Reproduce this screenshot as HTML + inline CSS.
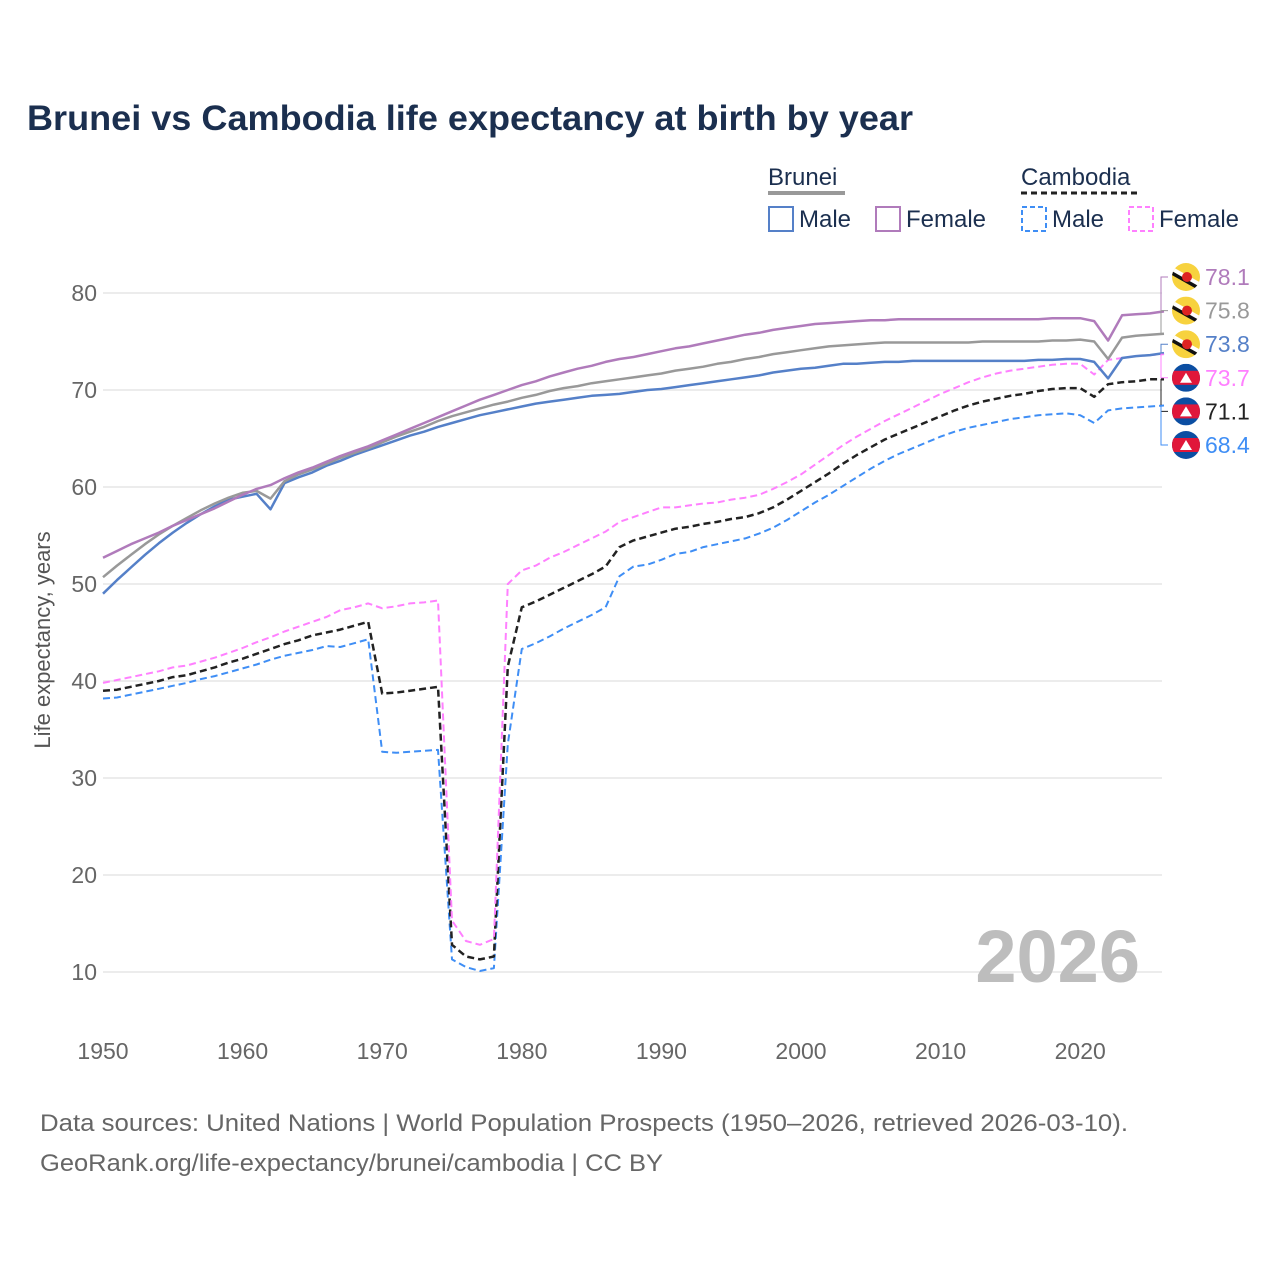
<!DOCTYPE html>
<html><head><meta charset="utf-8">
<style>
body{margin:0;background:#fff;font-family:"Liberation Sans",sans-serif;}
svg text{font-family:"Liberation Sans",sans-serif;}
</style></head>
<body>
<svg id="c" width="1280" height="1280" viewBox="0 0 1280 1280">
<rect width="1280" height="1280" fill="#fff"/>
<text x="27" y="130" font-size="35" font-weight="bold" fill="#1b2f4f" textLength="886" lengthAdjust="spacingAndGlyphs">Brunei vs Cambodia life expectancy at birth by year</text>
<g id="grid"></g>
<g id="yt"></g>
<g id="xt"></g>
<text transform="translate(50,640) rotate(-90)" text-anchor="middle" font-size="22" fill="#555">Life expectancy, years</text>
<text x="1140" y="982" text-anchor="end" font-size="74" font-weight="bold" fill="#bdbdbd">2026</text>
<g id="lines"></g>
<g id="labels"></g>
<g>
<text x="768" y="185" font-size="24" fill="#1b2f4f">Brunei</text>
<line x1="768" y1="193" x2="845" y2="193" stroke="#999" stroke-width="4"/>
<text x="1021" y="185" font-size="24" fill="#1b2f4f">Cambodia</text>
<line x1="1021" y1="193" x2="1137" y2="193" stroke="#222" stroke-width="3" stroke-dasharray="6,4"/>
<g><rect x="769" y="207" width="24" height="24" fill="none" stroke="#5580c8" stroke-width="2"/><text x="799" y="227" font-size="24" fill="#1b2f4f">Male</text></g>
<g><rect x="876" y="207" width="24" height="24" fill="none" stroke="#b07bbb" stroke-width="2"/><text x="906" y="227" font-size="24" fill="#1b2f4f">Female</text></g>
<g><rect x="1022" y="207" width="24" height="24" fill="none" stroke="#3f8ef5" stroke-width="2" stroke-dasharray="5,3"/><text x="1052" y="227" font-size="24" fill="#1b2f4f">Male</text></g>
<g><rect x="1129" y="207" width="24" height="24" fill="none" stroke="#ff80ff" stroke-width="2" stroke-dasharray="5,3"/><text x="1159" y="227" font-size="24" fill="#1b2f4f">Female</text></g>
</g>
<text x="40" y="1131" font-size="24" fill="#666" textLength="1088" lengthAdjust="spacingAndGlyphs">Data sources: United Nations | World Population Prospects (1950–2026, retrieved 2026-03-10).</text>
<text x="40" y="1171" font-size="24" fill="#666" textLength="623" lengthAdjust="spacingAndGlyphs">GeoRank.org/life-expectancy/brunei/cambodia | CC BY</text>
</svg>
<script>
const startYear = 1950;
const yTicks = [10,20,30,40,50,60,70,80];
const xTicks = [1950,1960,1970,1980,1990,2000,2010,2020];
const bruneiMale = [49.0,50.4,51.7,53.0,54.2,55.3,56.3,57.2,58.0,58.7,59.0,59.3,57.7,60.4,61.0,61.5,62.2,62.7,63.3,63.8,64.3,64.8,65.3,65.7,66.2,66.6,67.0,67.4,67.7,68.0,68.3,68.6,68.8,69.0,69.2,69.4,69.5,69.6,69.8,70.0,70.1,70.3,70.5,70.7,70.9,71.1,71.3,71.5,71.8,72.0,72.2,72.3,72.5,72.7,72.7,72.8,72.9,72.9,73.0,73.0,73.0,73.0,73.0,73.0,73.0,73.0,73.0,73.1,73.1,73.2,73.2,72.9,71.2,73.3,73.5,73.6,73.8];
const bruneiTotal = [50.7,51.9,53.0,54.1,55.1,56.0,56.8,57.6,58.3,58.9,59.4,59.6,58.8,60.6,61.3,61.8,62.4,63.0,63.5,64.0,64.6,65.2,65.7,66.2,66.8,67.3,67.7,68.1,68.5,68.8,69.2,69.5,69.9,70.2,70.4,70.7,70.9,71.1,71.3,71.5,71.7,72.0,72.2,72.4,72.7,72.9,73.2,73.4,73.7,73.9,74.1,74.3,74.5,74.6,74.7,74.8,74.9,74.9,74.9,74.9,74.9,74.9,74.9,75.0,75.0,75.0,75.0,75.0,75.1,75.1,75.2,75.0,73.2,75.4,75.6,75.7,75.8];
const bruneiFemale = [52.7,53.4,54.1,54.7,55.3,56.0,56.6,57.2,57.8,58.5,59.2,59.8,60.2,60.9,61.5,62.0,62.6,63.2,63.7,64.2,64.8,65.4,66.0,66.6,67.2,67.8,68.4,69.0,69.5,70.0,70.5,70.9,71.4,71.8,72.2,72.5,72.9,73.2,73.4,73.7,74.0,74.3,74.5,74.8,75.1,75.4,75.7,75.9,76.2,76.4,76.6,76.8,76.9,77.0,77.1,77.2,77.2,77.3,77.3,77.3,77.3,77.3,77.3,77.3,77.3,77.3,77.3,77.3,77.4,77.4,77.4,77.1,75.1,77.7,77.8,77.9,78.1];
const cambodiaTotal = [39.0,39.1,39.4,39.7,40.0,40.4,40.6,41.0,41.4,41.9,42.3,42.8,43.3,43.8,44.2,44.7,45.0,45.3,45.7,46.1,38.7,38.8,39.0,39.2,39.4,12.8,11.6,11.3,11.6,41.5,47.6,48.2,48.9,49.6,50.3,51.0,51.8,53.8,54.5,54.9,55.3,55.7,55.9,56.2,56.4,56.7,56.9,57.3,57.9,58.7,59.6,60.5,61.4,62.4,63.3,64.1,64.9,65.5,66.1,66.7,67.3,67.9,68.4,68.8,69.1,69.4,69.6,69.9,70.1,70.2,70.2,69.3,70.6,70.8,70.9,71.1,71.1];
const cambodiaMale = [38.2,38.3,38.6,38.9,39.2,39.5,39.8,40.2,40.5,40.9,41.3,41.7,42.2,42.6,42.9,43.2,43.6,43.5,43.9,44.3,32.7,32.6,32.7,32.8,32.9,11.3,10.5,10.1,10.4,33.5,43.3,43.9,44.6,45.4,46.1,46.8,47.6,50.8,51.8,52.0,52.5,53.1,53.3,53.8,54.1,54.4,54.7,55.2,55.8,56.6,57.5,58.4,59.2,60.1,61.0,61.9,62.7,63.4,64.0,64.6,65.2,65.7,66.1,66.4,66.7,67.0,67.2,67.4,67.5,67.6,67.4,66.6,67.9,68.1,68.2,68.3,68.4];
const cambodiaFemale = [39.8,40.1,40.4,40.7,41.0,41.4,41.6,42.0,42.4,42.9,43.4,44.0,44.5,45.1,45.6,46.1,46.6,47.3,47.6,48.0,47.5,47.7,48.0,48.1,48.3,15.3,13.2,12.8,13.4,50.0,51.4,51.9,52.7,53.3,54.0,54.7,55.4,56.4,56.9,57.4,57.9,57.9,58.1,58.3,58.4,58.7,58.9,59.2,59.8,60.5,61.3,62.3,63.3,64.3,65.2,66.0,66.8,67.5,68.2,68.9,69.6,70.2,70.8,71.3,71.7,72.0,72.2,72.4,72.6,72.7,72.7,71.6,73.1,73.3,73.5,73.6,73.7];

const NS='http://www.w3.org/2000/svg';
const X0=103, PX_PER_YEAR=13.96, Y80=293, PX_PER_UNIT=9.7, PL=103, PR=1162;
const xs = yr => X0 + (yr-1950)*PX_PER_YEAR;
const ys = v => Y80 + (80-v)*PX_PER_UNIT;
function mk(tag, parent){const e=document.createElementNS(NS,tag);parent.appendChild(e);return e;}
const grid=document.getElementById('grid'), yt=document.getElementById('yt'), xt=document.getElementById('xt');
yTicks.forEach(v=>{
  const l=mk('line',grid);
  
  
  l.setAttribute('x1',PL);l.setAttribute('x2',PR);l.setAttribute('y1',ys(v));l.setAttribute('y2',ys(v));
  l.setAttribute('stroke','#e6e6e6');l.setAttribute('stroke-width','1.5');
  const t=mk('text',yt);
  
  
  t.setAttribute('x',97);t.setAttribute('y',ys(v)+8);t.setAttribute('text-anchor','end');
  t.setAttribute('font-size','23');t.setAttribute('fill','#666');t.textContent=v;
});
xTicks.forEach(yr=>{
  const t=mk('text',xt);
  
  
  t.setAttribute('x',xs(yr));t.setAttribute('y',1059);t.setAttribute('text-anchor','middle');
  t.setAttribute('font-size','23');t.setAttribute('fill','#666');t.textContent=yr;
});
const series=[
 {name:'cambodia-male',d:cambodiaMale,c:'#3f8ef5',dash:'7,4',w:2},
 {name:'cambodia-total',d:cambodiaTotal,c:'#222',dash:'7,4',w:2.5},
 {name:'cambodia-female',d:cambodiaFemale,c:'#ff80ff',dash:'7,4',w:2},
 {name:'brunei-male',d:bruneiMale,c:'#5580c8',dash:null,w:2.5},
 {name:'brunei-total',d:bruneiTotal,c:'#999',dash:null,w:2.5},
 {name:'brunei-female',d:bruneiFemale,c:'#b07bbb',dash:null,w:2.5}
];
const lines=document.getElementById('lines');
series.forEach(s=>{
  const p=mk('polyline',lines);
  
  
  p.setAttribute('points',s.d.map((v,i)=>xs(startYear+i).toFixed(1)+','+ys(v).toFixed(1)).join(' '));
  p.setAttribute('fill','none');p.setAttribute('stroke',s.c);p.setAttribute('stroke-width',s.w);
  p.setAttribute('stroke-linejoin','round');
  if(s.dash)p.setAttribute('stroke-dasharray',s.dash);
});
const labels=document.getElementById('labels');
const endOrder=[
 {s:bruneiFemale,c:'#b07bbb',flag:'bn'},{s:bruneiTotal,c:'#999',flag:'bn'},{s:bruneiMale,c:'#5580c8',flag:'bn'},
 {s:cambodiaFemale,c:'#ff80ff',flag:'kh'},{s:cambodiaTotal,c:'#222',flag:'kh'},{s:cambodiaMale,c:'#3f8ef5',flag:'kh'}
];
const lastX=xs(startYear+bruneiMale.length-1);
endOrder.forEach((e,i)=>{
  const ly=277+i*33.6;
  const v=e.s[e.s.length-1];
  const conn=mk('polyline',labels);
  
  
  conn.setAttribute('points',`${lastX},${ys(v)} 1161,${ys(v)} 1161,${ly} 1168,${ly}`);
  conn.setAttribute('fill','none');conn.setAttribute('stroke',e.c);conn.setAttribute('stroke-width','1');
  const g=mk('g',labels);
  
  
  const cp='cp'+i;
  const defs=mk('defs',g);const clip=mk('clipPath',defs);clip.setAttribute('id',cp);
  const cc=mk('circle',clip);cc.setAttribute('cx',1186);cc.setAttribute('cy',ly);cc.setAttribute('r',14);
  const inner=mk('g',g);inner.setAttribute('clip-path',`url(#${cp})`);
  if(e.flag==='bn'){
    const r=mk('rect',inner);r.setAttribute('x',1172);r.setAttribute('y',ly-14);r.setAttribute('width',28);r.setAttribute('height',28);r.setAttribute('fill','#f7d23e');
    const w=mk('line',inner);w.setAttribute('x1',1170);w.setAttribute('y1',ly-8);w.setAttribute('x2',1202);w.setAttribute('y2',ly+10);w.setAttribute('stroke','#fff');w.setAttribute('stroke-width','6');
    const b=mk('line',inner);b.setAttribute('x1',1170);b.setAttribute('y1',ly-5);b.setAttribute('x2',1202);b.setAttribute('y2',ly+13);b.setAttribute('stroke','#111');b.setAttribute('stroke-width','3.5');
    const em=mk('circle',inner);em.setAttribute('cx',1187);em.setAttribute('cy',ly);em.setAttribute('r',5);em.setAttribute('fill','#d22');
  } else {
    const r=mk('rect',inner);r.setAttribute('x',1172);r.setAttribute('y',ly-14);r.setAttribute('width',28);r.setAttribute('height',28);r.setAttribute('fill','#0b4ea2');
    const m=mk('rect',inner);m.setAttribute('x',1172);m.setAttribute('y',ly-7);m.setAttribute('width',28);m.setAttribute('height',14);m.setAttribute('fill','#e0173a');
    const t=mk('polygon',inner);t.setAttribute('points',`1180,${ly+5} 1186,${ly-5} 1192,${ly+5}`);t.setAttribute('fill','#fff');
  }
  const t=mk('text',labels);
  
  
  t.setAttribute('x',1205);t.setAttribute('y',ly+8);t.setAttribute('font-size','23');t.setAttribute('fill',e.c);
  t.textContent=v.toFixed(1);
});
</script>
</body></html>
